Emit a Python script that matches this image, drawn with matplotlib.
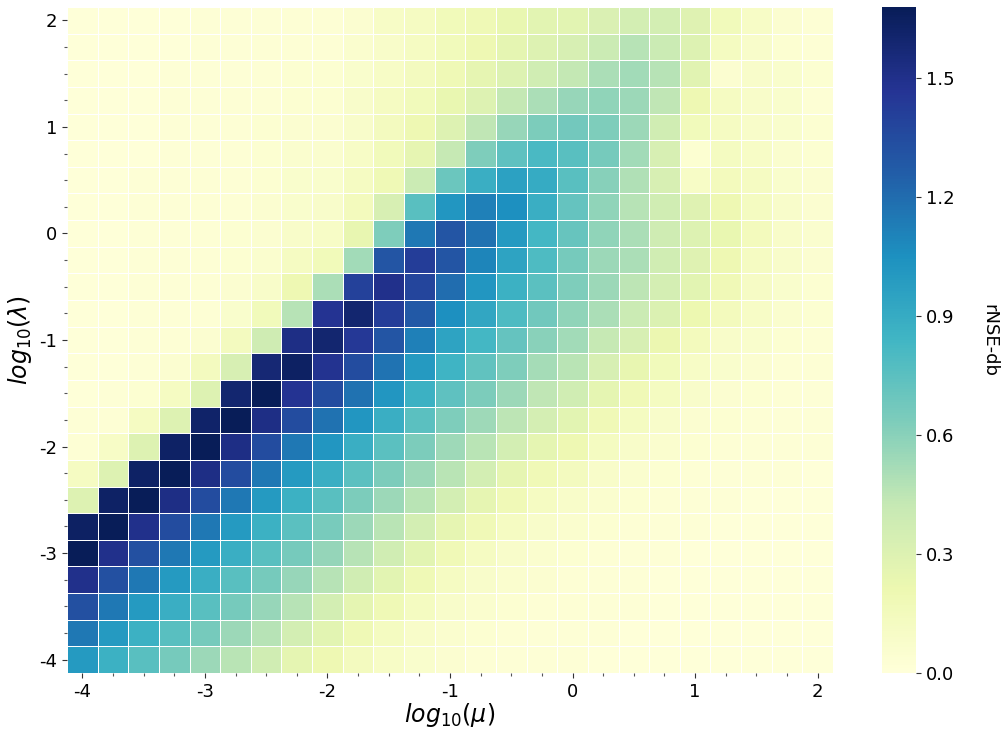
import matplotlib
matplotlib.use('Agg')
import matplotlib.pyplot as plt
import numpy as np

plt.rcParams['axes.unicode_minus'] = False

## grid axes (log10 mu along x, log10 lambda along y)
mu_log = np.arange(-4, 2.01, 0.25)
lam_log = np.arange(2, -4.01, -0.25)   # top row first

## rNSE-db, one row per lambda (top = 2, bottom = -4)
rnse_db = [
    [0.01,0.01,0.01,0.01,0.02,0.02,0.02,0.03, 0.03,0.05,0.10,0.12,0.17,0.19,0.23,0.27, 0.27,0.32,0.36,0.36,0.29,0.16,0.10,0.05,0.03],
    [0.01,0.01,0.01,0.01,0.02,0.02,0.03,0.03, 0.03,0.06,0.09,0.12,0.16,0.20,0.26,0.30, 0.33,0.40,0.47,0.40,0.30,0.13,0.08,0.04,0.03],
    [0.01,0.01,0.01,0.02,0.02,0.02,0.03,0.04, 0.04,0.07,0.10,0.14,0.19,0.25,0.30,0.37, 0.43,0.50,0.53,0.47,0.28,0.05,0.08,0.07,0.04],
    [0.01,0.01,0.01,0.02,0.02,0.03,0.03,0.04, 0.04,0.08,0.12,0.16,0.23,0.30,0.43,0.50, 0.56,0.58,0.55,0.44,0.20,0.12,0.09,0.07,0.03],
    [0.01,0.01,0.01,0.02,0.02,0.03,0.04,0.05, 0.05,0.08,0.14,0.20,0.30,0.44,0.56,0.64, 0.67,0.63,0.55,0.37,0.16,0.12,0.09,0.07,0.04],
    [0.01,0.01,0.01,0.02,0.02,0.03,0.04,0.06, 0.06,0.10,0.16,0.25,0.42,0.63,0.74,0.81, 0.76,0.66,0.53,0.33,0.04,0.13,0.10,0.06,0.04],
    [0.01,0.01,0.02,0.02,0.03,0.03,0.04,0.07, 0.07,0.12,0.19,0.40,0.70,0.88,0.96,0.90, 0.76,0.61,0.49,0.33,0.10,0.15,0.12,0.07,0.05],
    [0.01,0.01,0.02,0.02,0.03,0.03,0.05,0.07, 0.08,0.15,0.33,0.76,1.02,1.12,1.05,0.88, 0.72,0.58,0.47,0.37,0.29,0.20,0.13,0.08,0.05],
    [0.01,0.01,0.02,0.02,0.03,0.04,0.05,0.09, 0.10,0.24,0.63,1.15,1.30,1.18,1.00,0.83, 0.71,0.58,0.50,0.38,0.30,0.23,0.15,0.09,0.06],
    [0.01,0.01,0.02,0.02,0.03,0.04,0.06,0.12, 0.17,0.53,1.30,1.42,1.30,1.10,0.95,0.80, 0.66,0.55,0.50,0.37,0.29,0.20,0.12,0.08,0.05],
    [0.01,0.01,0.02,0.02,0.03,0.05,0.09,0.20, 0.50,1.40,1.50,1.38,1.20,1.02,0.87,0.75, 0.63,0.55,0.45,0.35,0.27,0.18,0.11,0.07,0.04],
    [0.01,0.01,0.02,0.02,0.03,0.07,0.16,0.47, 1.47,1.60,1.42,1.28,1.05,0.93,0.80,0.68, 0.58,0.50,0.40,0.31,0.21,0.15,0.10,0.06,0.04],
    [0.01,0.01,0.02,0.03,0.05,0.14,0.38,1.52, 1.60,1.45,1.30,1.12,0.95,0.83,0.72,0.60, 0.53,0.42,0.33,0.22,0.15,0.09,0.07,0.04,0.03],
    [0.01,0.01,0.02,0.05,0.14,0.33,1.58,1.64, 1.48,1.35,1.17,1.00,0.85,0.73,0.63,0.52, 0.46,0.33,0.24,0.16,0.10,0.07,0.05,0.03,0.03],
    [0.01,0.02,0.04,0.12,0.30,1.60,1.68,1.47, 1.35,1.18,1.02,0.87,0.74,0.64,0.55,0.44, 0.37,0.26,0.18,0.13,0.08,0.05,0.04,0.03,0.02],
    [0.02,0.03,0.12,0.30,1.62,1.68,1.52,1.35, 1.18,1.02,0.88,0.75,0.63,0.54,0.45,0.35, 0.27,0.18,0.13,0.08,0.05,0.04,0.03,0.02,0.02],
    [0.03,0.10,0.30,1.63,1.68,1.52,1.35,1.15, 1.02,0.88,0.75,0.64,0.54,0.46,0.36,0.26, 0.20,0.13,0.09,0.06,0.04,0.03,0.02,0.02,0.02],
    [0.12,0.30,1.63,1.68,1.52,1.35,1.15,1.00, 0.88,0.75,0.64,0.55,0.46,0.36,0.25,0.18, 0.14,0.09,0.06,0.04,0.03,0.02,0.02,0.02,0.01],
    [0.30,1.63,1.68,1.52,1.35,1.15,1.00,0.87, 0.76,0.64,0.55,0.46,0.36,0.25,0.18,0.12, 0.09,0.06,0.04,0.03,0.02,0.02,0.01,0.01,0.01],
    [1.64,1.68,1.50,1.35,1.15,1.00,0.87,0.75, 0.65,0.55,0.46,0.36,0.25,0.18,0.12,0.08, 0.06,0.04,0.03,0.02,0.02,0.01,0.01,0.01,0.01],
    [1.68,1.50,1.33,1.15,1.00,0.88,0.76,0.66, 0.57,0.47,0.37,0.27,0.18,0.12,0.08,0.06, 0.04,0.03,0.02,0.02,0.01,0.01,0.01,0.01,0.01],
    [1.50,1.33,1.15,1.00,0.88,0.76,0.66,0.56, 0.47,0.37,0.27,0.19,0.12,0.08,0.06,0.05, 0.03,0.02,0.02,0.01,0.01,0.01,0.01,0.01,0.01],
    [1.33,1.15,1.00,0.88,0.76,0.66,0.56,0.47, 0.36,0.26,0.19,0.13,0.08,0.06,0.04,0.03, 0.03,0.02,0.02,0.01,0.01,0.01,0.01,0.01,0.01],
    [1.15,1.00,0.87,0.76,0.66,0.55,0.47,0.36, 0.27,0.19,0.13,0.09,0.06,0.04,0.03,0.02, 0.02,0.02,0.01,0.01,0.01,0.01,0.01,0.01,0.01],
    [1.00,0.87,0.76,0.66,0.55,0.46,0.37,0.26, 0.20,0.14,0.10,0.07,0.05,0.03,0.02,0.02, 0.02,0.01,0.01,0.01,0.01,0.01,0.01,0.01,0.01],
]

major_ticks = [-4, -3, -2, -1, 0, 1, 2]
cbar_ticks = [0.0, 0.3, 0.6, 0.9, 1.2, 1.5]

Z = np.array(rnse_db)

W, H = 1004, 729
fig = plt.figure(figsize=(W / 100, H / 100), dpi=100)
ax = fig.add_axes([67 / W, 1 - 673 / H, 766 / W, 666 / H])
cax = fig.add_axes([882 / W, 1 - 673 / H, 34 / W, 666 / H])

mesh = ax.pcolormesh(mu_log, lam_log, Z, shading='nearest', cmap='YlGnBu',
                     vmin=0, vmax=Z.max(), edgecolors='white', linewidth=0.5)

for s in ax.spines.values():
    s.set_visible(False)

ax.set_xticks(major_ticks)
ax.set_xticklabels([str(v) for v in major_ticks])
ax.set_yticks(major_ticks)
ax.set_yticklabels([str(v) for v in major_ticks])
ax.set_xticks(mu_log, minor=True)
ax.set_yticks(lam_log, minor=True)
ax.tick_params(which='major', length=3.5, width=0.8, labelsize=13, colors='#333333',
               labelcolor='black')
ax.tick_params(which='minor', length=2.5, width=0.8, colors='#555555')

ax.set_xlabel(r'$log_{10}(\mu)$', fontsize=17, labelpad=0)
ax.set_ylabel(r'$log_{10}(\lambda)$', fontsize=17, labelpad=4)

cb = fig.colorbar(mesh, cax=cax)
cb.outline.set_visible(False)
cb.set_ticks(cbar_ticks)
cb.set_ticklabels(['%.1f' % v for v in cbar_ticks])
cb.ax.tick_params(labelsize=13, length=3.5, width=0.8, colors='#333333', labelcolor='black')
cb.set_label('rNSE-db', rotation=270, fontsize=13, labelpad=32)

fig.savefig('out.png', dpi=100)
